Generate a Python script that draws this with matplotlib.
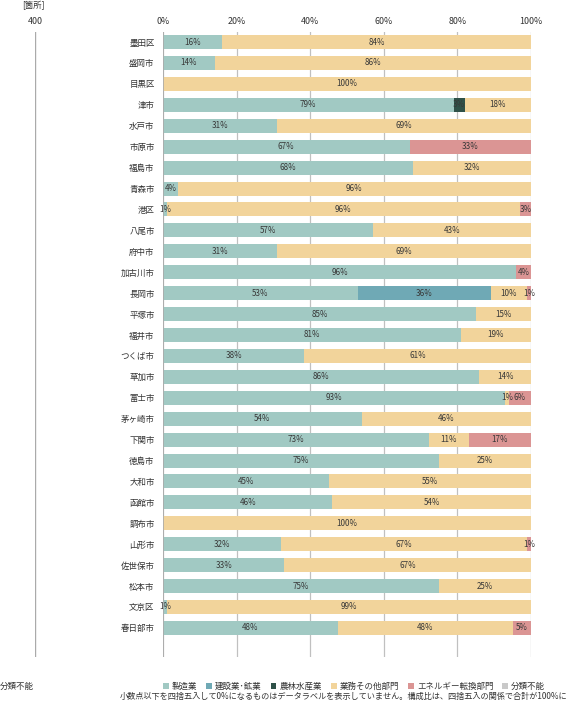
import matplotlib
matplotlib.use("Agg")
import matplotlib.pyplot as plt
import numpy as np

plt.rcParams['font.family'] = ['Noto Sans CJK JP', 'DejaVu Sans']

cities = ["墨田区", "盛岡市", "目黒区", "津市", "水戸市", "市原市", "福島市", "青森市", "港区",
          "八尾市", "府中市", "加古川市", "長岡市", "平塚市", "福井市", "つくば市", "草加市",
          "富士市", "茅ヶ崎市", "下関市", "徳島市", "大和市", "函館市", "調布市", "山形市",
          "佐世保市", "松本市", "文京区", "春日部市"]

series_names = ["製造業", "建設業･鉱業", "農林水産業", "業務その他部門", "エネルギー転換部門", "分類不能"]

manufacturing = [16, 14, 0, 79, 31, 67, 68, 4, 1, 57, 31, 96, 53, 85, 81, 38, 86, 93, 54, 73, 75, 45, 46, 0, 32, 33, 75, 1, 48]
construction  = [0, 0, 0, 0, 0, 0, 0, 0, 0, 0, 0, 0, 36, 0, 0, 0, 0, 0, 0, 0, 0, 0, 0, 0, 0, 0, 0, 0, 0]
agriculture   = [0, 0, 0, 3, 0, 0, 0, 0, 0, 0, 0, 0, 0, 0, 0, 0, 0, 0, 0, 0, 0, 0, 0, 0, 0, 0, 0, 0, 0]
business      = [84, 86, 100, 18, 69, 0, 32, 96, 96, 43, 69, 0, 10, 15, 19, 61, 14, 1, 46, 11, 25, 55, 54, 100, 67, 67, 25, 99, 48]
energy        = [0, 0, 0, 0, 0, 33, 0, 0, 3, 0, 0, 4, 1, 0, 0, 0, 0, 6, 0, 17, 0, 0, 0, 0, 1, 0, 0, 0, 5]
unclassified  = [0, 0, 0, 0, 0, 0, 0, 0, 0, 0, 0, 0, 0, 0, 0, 0, 0, 0, 0, 0, 0, 0, 0, 0, 0, 0, 0, 0, 0]

colors = ["#a1c9c3", "#6fa9b5", "#2f5148", "#f2d49b", "#db9594", "#c9c9c9"]

x_ticks = [0, 20, 40, 60, 80, 100]
x_ticklabels = ["0%", "20%", "40%", "60%", "80%", "100%"]

note = "小数点以下を四捨五入して0%になるものはデータラベルを表示していません。構成比は、四捨五入の関係で合計が100%に"

W, H = 570, 702
fig = plt.figure(figsize=(W / 100, H / 100), dpi=100)

ax_left, ax_right = 163, 531
ax_top, ax_bottom = 32, 657
ax = fig.add_axes([ax_left / W, 1 - ax_bottom / H, (ax_right - ax_left) / W, (ax_bottom - ax_top) / H])

data = np.array([manufacturing, construction, agriculture, business, energy, unclassified], dtype=float)
totals = data.sum(axis=0)
shares = data / totals * 100

n = len(cities)
y = np.arange(n)
left = np.zeros(n)
for i, name in enumerate(series_names):
    ax.barh(y, shares[i], left=left, height=0.67, color=colors[i], label=name, zorder=2,
            edgecolor='none')
    for j in range(n):
        if data[i, j] > 0:
            ax.text(left[j] + shares[i, j] / 2, y[j], f"{int(data[i, j])}%", ha='center', va='center',
                    fontsize=5.8, color="#383838", zorder=3)
    left += shares[i]

ax.set_xlim(0, 100)
ax.set_ylim(n - 1 + 1.39, -0.48)
ax.set_yticks(y)
ax.set_yticklabels(cities, fontsize=6.1, color="#333333")
ax.set_xticks(x_ticks)
ax.set_xticklabels(x_ticklabels, fontsize=6.4, color="#333333")
ax.xaxis.tick_top()
ax.tick_params(axis='both', length=0)
ax.tick_params(axis='x', pad=4.5)
ax.tick_params(axis='y', pad=6)
ax.grid(axis='x', color="#c0c0c0", linewidth=0.9, zorder=0)
for s in ax.spines.values():
    s.set_visible(False)
ax.axvline(0, color="#aaaaaa", linewidth=1.2, zorder=4)

# left cut-off panel axis
ax2 = fig.add_axes([35 / W, 1 - ax_bottom / H, 60 / W, (ax_bottom - ax_top) / H])
ax2.set_xlim(400, 300)
ax2.set_ylim(0, 1)
ax2.set_xticks([400])
ax2.set_xticklabels(["400"], fontsize=6.4, color="#333333")
ax2.xaxis.tick_top()
ax2.tick_params(axis='x', length=0, pad=4.5)
ax2.set_yticks([])
for s in ax2.spines.values():
    s.set_visible(False)
ax2.axvline(400, color="#aaaaaa", linewidth=1.0)
ax2.patch.set_visible(False)

fig.text(33 / W, 1 - 5.5 / H, "[箇所]", fontsize=6, color="#333333", ha='center', va='center')
fig.text(0, 1 - 686 / H, "分類不能", fontsize=6.1, color="#333333", ha='left', va='center')

handles, labels = ax.get_legend_handles_labels()
leg = fig.legend(handles, labels, loc='center', bbox_to_anchor=(354 / W, 1 - 686 / H), ncol=6,
                 frameon=False, fontsize=6.1, handlelength=0.7, handleheight=0.7,
                 handletextpad=0.35, columnspacing=1.05, borderaxespad=0)
for t in leg.get_texts():
    t.set_color("#333333")

fig.text(120 / W, 1 - 701 / H, note, fontsize=5.9, color="#333333", ha='left', va='bottom')

fig.savefig("out.png", dpi=100)
